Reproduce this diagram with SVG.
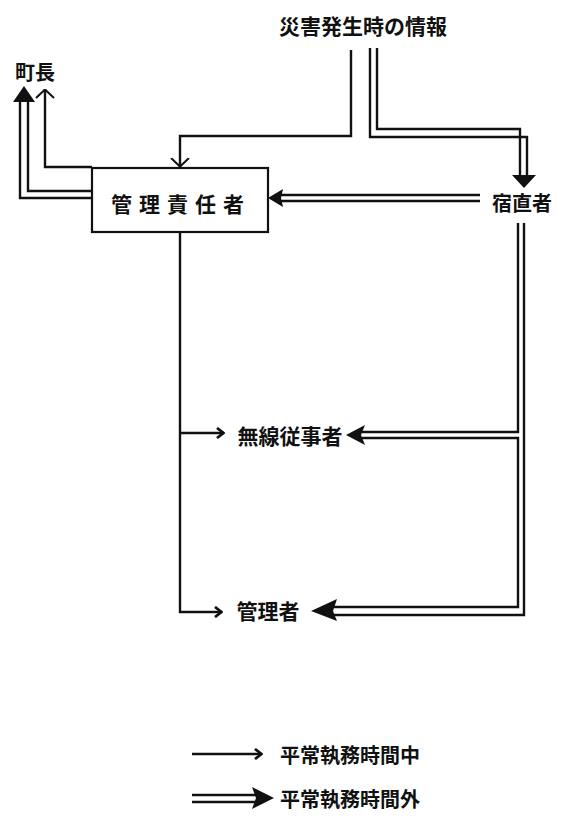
<svg xmlns="http://www.w3.org/2000/svg" width="566" height="825" viewBox="0 0 566 825">
<style>
text{font-family:"Noto Sans CJK JP","Noto Sans CJK SC",sans-serif;font-weight:700;fill:#111;dominant-baseline:central}
.ln{fill:none;stroke:#111;stroke-width:2.4;stroke-linejoin:miter}
.hd{fill:#111;stroke:none}
</style>
<defs>
<marker id="open" viewBox="0 0 10 20" refX="9.5" refY="10" markerWidth="10" markerHeight="20" markerUnits="userSpaceOnUse" orient="auto">
<path d="M0.5,1 L9,10 L0.5,19" fill="none" stroke="#111" stroke-width="2"/>
</marker>
<marker id="small" viewBox="0 0 10 12" refX="9" refY="6" markerWidth="10" markerHeight="12" markerUnits="userSpaceOnUse" orient="auto">
<path d="M2,1 L8.5,6 L2,11" fill="none" stroke="#111" stroke-width="2.8"/>
</marker>
</defs>
<g id="title"><text x="363" y="25" font-size="21" text-anchor="middle">災害発生時の情報</text></g>
<g id="chocho"><text x="35" y="71" font-size="20" text-anchor="middle">町長</text></g>
<g id="kanri-sekinin">
<rect x="92" y="168" width="176" height="64" fill="#fff" stroke="#111" stroke-width="2.2"/>
<text x="181" y="203" font-size="21" text-anchor="middle" letter-spacing="7">管理責任者</text>
</g>
<g id="shukuchoku"><text x="522" y="202" font-size="20" text-anchor="middle">宿直者</text></g>
<g id="musen"><text x="290" y="435" font-size="21" text-anchor="middle">無線従事者</text></g>
<g id="kanrisha"><text x="268" y="610" font-size="21" text-anchor="middle">管理者</text></g>
<g id="legend">
<text x="280" y="754" font-size="20">平常執務時間中</text>
<text x="280" y="798" font-size="20">平常執務時間外</text>
</g>
<g id="connectors">
<path class="ln" d="M351,50 V136 H180 V167" marker-end="url(#open)"/>
<path class="ln" d="M92,167 H45 V89" marker-end="url(#open)"/>
<path class="ln" d="M180,232 V612 H222" marker-end="url(#small)"/>
<path class="ln" d="M180,433 H224" marker-end="url(#small)"/>
<path class="ln" d="M192,754 H262" marker-end="url(#small)"/>
<path class="ln" d="M370,48 V137 H527 V177"/>
<path class="ln" d="M377,48 V129 H520 V177"/>
<polygon class="hd" points="512,175 536,175 524,188"/>
<path class="ln" d="M480,195 H280"/>
<path class="ln" d="M480,201 H280"/>
<polygon class="hd" points="268,198 283,189 281,198 283,207"/>
<path class="ln" d="M92,198 H20 V100"/>
<path class="ln" d="M92,191 H28 V100"/>
<polygon class="hd" points="24,86 13,102 35,102"/>
<path class="ln" d="M518,223 V432 H362"/>
<path class="ln" d="M362,438 H518 V607 H334"/>
<path class="ln" d="M524,223 V615 H334"/>
<polygon class="hd" points="346,435 365,425 361,435 365,445"/>
<polygon class="hd" points="311,611 337,599 333,611 337,621"/>
<path class="ln" d="M192,795 H256"/>
<path class="ln" d="M192,802 H256"/>
<polygon class="hd" points="274,798 252,787 256,798 252,809"/>
</g>
</svg>
